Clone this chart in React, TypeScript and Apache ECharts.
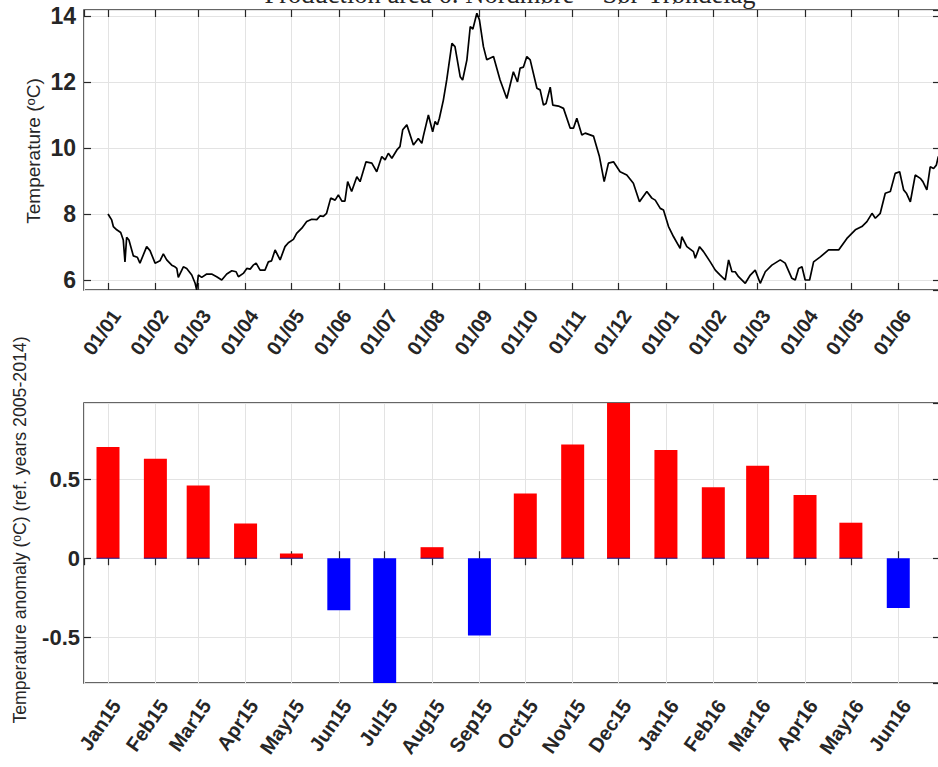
import React, { useEffect, useRef } from 'react';
import * as echarts from 'echarts';

const titleText = 'Production area 6: Nordmøre + Sør-Trøndelag';

// daily temperature trace, sampled: day offset from 2015-01-01 and value (°C)
const tempDays = [
  0, 2.4, 3.5, 5.7, 8.3, 10, 11.1, 12.2, 13.7, 16.6, 19.2, 20.9, 25.3, 27.5, 30.8, 34, 36.2, 38.4, 41.7, 43.8,
  45, 46, 49.3, 51.5, 54.8, 57, 58, 59.1, 61.3, 64.6, 67.8, 71.1, 74.4, 77.7, 81, 83.8, 85.3, 88.5, 90.8, 93,
  95, 96.9, 99.5, 102.7, 104.9, 107, 109.3, 112.6, 115.8, 118, 121.3, 123.4, 126.8, 130, 133.3, 136.6, 138.7, 140.9, 143, 145.7,
  148.6, 150.7, 153, 155, 156.8, 159.4, 162.8, 164.9, 168.8, 172.6, 175.8, 179.1, 181.3, 183.4, 185.7, 189, 191, 192.8, 195.5, 199.8,
  203, 205.3, 206.3, 209.6, 212.4, 214, 215.5, 216.8, 219.4, 221.6, 225, 227, 230.4, 232, 234.8, 237, 238.7, 241.3, 243, 245.6,
  247.8, 252.2, 256.5, 260.9, 265.2, 267.9, 269.6, 271.8, 274, 276.2, 280.6, 282.7, 284.9, 286.6, 289.3, 291, 294.7, 298, 302.4, 304.5,
  306.7, 310, 312.2, 317.6, 321.5, 324.6, 327.4, 330.7, 335, 339.4, 343.7, 347.7, 352.5, 355.8, 358, 361.3, 363.4, 366.7, 370, 374.3,
  375.4, 378.7, 383, 384.2, 387, 389.6, 394, 397.3, 400.5, 403.8, 406, 408.2, 410.3, 412.5, 416.9, 420.2, 423.4, 426.7, 430, 434.3,
  439.8, 443, 447.4, 449.6, 451.8, 454, 456.1, 459, 461.6, 466, 471.4, 478, 483.4, 488.9, 493.2, 496.5, 499.8, 502, 505.2, 508.5,
  511.8, 515, 517.9, 520.5, 522.3, 524.9, 528.1, 531.4, 533.1, 535.7, 537.9, 540.1, 541.9, 543.2, 546,
];
const tempValues = [
  8.0, 7.82, 7.62, 7.52, 7.44, 7.21, 6.55, 7.29, 7.21, 6.73, 6.69, 6.51, 7.01, 6.89, 6.51, 6.58, 6.79, 6.61, 6.45, 6.4,
  6.35, 6.08, 6.4, 6.35, 6.15, 5.9, 5.7, 6.15, 6.08, 6.18, 6.18, 6.1, 6.0, 6.18, 6.28, 6.25, 6.1, 6.2, 6.35, 6.33,
  6.45, 6.51, 6.3, 6.3, 6.55, 6.58, 6.91, 6.61, 7.01, 7.13, 7.23, 7.41, 7.57, 7.77, 7.84, 7.83, 7.94, 7.93, 8.02, 8.48,
  8.42, 8.58, 8.39, 8.39, 8.98, 8.68, 9.13, 8.98, 9.58, 9.54, 9.28, 9.74, 9.64, 9.84, 9.69, 9.94, 10.04, 10.55, 10.7, 10.09,
  10.29, 10.14, 10.36, 11.0, 10.49, 10.8, 10.7, 10.9, 11.45, 12.06, 13.17, 13.07, 12.16, 12.06, 12.67, 13.68, 13.6, 14.08, 13.88, 13.07,
  12.67, 12.77, 12.06, 11.5, 12.31, 12.0, 12.42, 12.45, 12.77, 12.67, 11.81, 11.76, 11.3, 11.35, 11.84, 11.3, 11.27, 11.2, 10.6, 10.6,
  10.9, 10.39, 10.45, 10.36, 9.74, 8.98, 9.54, 9.58, 9.28, 9.18, 8.93, 8.37, 8.68, 8.48, 8.42, 8.17, 8.12, 7.62, 7.31, 6.96,
  7.31, 7.01, 6.86, 6.66, 7.01, 6.86, 6.55, 6.3, 6.15, 6.0, 6.61, 6.25, 6.25, 6.1, 5.9, 6.15, 6.3, 5.9, 6.25, 6.45,
  6.61, 6.51, 6.05, 6.0, 6.35, 6.4, 6.0, 6.0, 6.55, 6.7, 6.91, 6.91, 7.26, 7.52, 7.62, 7.77, 8.02, 7.87, 8.02, 8.63,
  8.68, 9.23, 9.28, 8.73, 8.63, 8.37, 9.18, 9.08, 8.98, 8.73, 9.43, 9.38, 9.48, 9.74, 9.6,
];

const anomalyMonths = [
  '2015-01', '2015-02', '2015-03', '2015-04', '2015-05', '2015-06', '2015-07', '2015-08', '2015-09',
  '2015-10', '2015-11', '2015-12', '2016-01', '2016-02', '2016-03', '2016-04', '2016-05', '2016-06',
];
const anomalyValues = [
  0.705, 0.63, 0.46, 0.22, 0.03, -0.33, -0.85, 0.07, -0.49,
  0.41, 0.72, 1.02, 0.685, 0.45, 0.585, 0.4, 0.225, -0.315,
];
const monthNames = ['Jan', 'Feb', 'Mar', 'Apr', 'May', 'Jun', 'Jul', 'Aug', 'Sep', 'Oct', 'Nov', 'Dec'];

const DAY = 86400000;
const BASE = new Date(2015, 0, 1).getTime();
const X_MIN = BASE - 15.7 * DAY;
const X_MAX = BASE + 544.3 * DAY;

const FONT = '"Liberation Sans", Arial, Helvetica, sans-serif';
const AX = '#262626';
const GRIDC = '#e3e3e3';

const pad = (n: number) => (n < 10 ? '0' + n : '' + n);
const toTime = (m: string) => {
  const [y, mo] = m.split('-').map(Number);
  return new Date(y, mo - 1, 1).getTime();
};

function xAxisDef(gridIndex: number, formatter: ((v: number) => string) | null, top: boolean, margin: number) {
  return {
    type: 'time',
    gridIndex,
    position: top ? 'top' : 'bottom',
    min: X_MIN,
    max: X_MAX,
    minInterval: 28 * DAY,
    maxInterval: 31 * DAY,
    axisLine: { show: false },
    axisTick: { show: true, inside: true, length: 7, lineStyle: { color: AX, width: 1.2 } },
    axisLabel: formatter
      ? {
          show: true,
          rotate: 55,
          fontSize: 20,
          fontWeight: 'bold',
          fontFamily: FONT,
          color: AX,
          margin,
          verticalAlign: 'top',
          hideOverlap: false,
          formatter,
        }
      : { show: false },
    splitLine: { show: !top, lineStyle: { color: GRIDC, width: 1 } },
  };
}

function yAxisDef(gridIndex: number, min: number, max: number, splitNumber: number, margin: number, fontSize: number, right: boolean) {
  return {
    type: 'value',
    gridIndex,
    position: right ? 'right' : 'left',
    min,
    max,
    splitNumber,
    axisLine: { show: false },
    axisTick: { show: true, inside: true, length: 7, lineStyle: { color: AX, width: 1.2 } },
    axisLabel: right
      ? { show: false }
      : {
          show: true,
          fontSize,
          fontWeight: 'bold',
          fontFamily: FONT,
          color: AX,
          margin,
          showMinLabel: false,
          showMaxLabel: false,
        },
    splitLine: { show: !right, lineStyle: { color: GRIDC, width: 1 } },
  };
}

export default function App() {
  const ref = useRef<HTMLDivElement>(null);

  useEffect(() => {
    document.body.style.margin = '0';
    if (!ref.current) return;
    const chart = echarts.init(ref.current, null, { renderer: 'svg' });

    const lineData = tempDays.map((d, i) => [BASE + d * DAY, tempValues[i]]);
    const barData = anomalyMonths.map((m, i) => [toTime(m), anomalyValues[i]]);

    const topFmt = (v: number) => {
      const d = new Date(v);
      return pad(d.getDate()) + '/' + pad(d.getMonth() + 1);
    };
    const botFmt = (v: number) => {
      const d = new Date(v);
      return monthNames[d.getMonth()] + String(d.getFullYear()).slice(2);
    };

    const BAR_HALF = 11.5;
    const renderBar = (params: any, api: any) => {
      const t = api.value(0);
      const v = api.value(1);
      const cs = params.coordSys;
      const p = api.coord([t, v]);
      const b = api.coord([t, 0]);
      const yTop = Math.max(cs.y, Math.min(p[1], b[1]));
      const yBot = Math.min(cs.y + cs.height, Math.max(p[1], b[1]));
      const children: any[] = [
        {
          type: 'rect',
          shape: { x: p[0] - BAR_HALF, y: yTop, width: BAR_HALF * 2, height: Math.max(0, yBot - yTop) },
          style: { fill: v >= 0 ? '#ff0000' : '#0000ff' },
        },
      ];
      if (v >= 0) {
        children.push({
          type: 'line',
          shape: { x1: b[0] - BAR_HALF, y1: b[1], x2: b[0] + BAR_HALF, y2: b[1] },
          style: { stroke: '#1a1a8c', lineWidth: 1 },
        });
      }
      return { type: 'group', children };
    };

    const option: any = {
      animation: false,
      backgroundColor: '#ffffff',
      grid: [
        { left: 84, top: 10, width: 856, height: 280, show: true, borderColor: '#333333', borderWidth: 1.5, backgroundColor: 'transparent', outerBoundsMode: 'none', containLabel: false },
        { left: 84, top: 403, width: 856, height: 280, show: true, borderColor: '#333333', borderWidth: 1.5, backgroundColor: 'transparent', outerBoundsMode: 'none', containLabel: false },
      ],
      xAxis: [
        xAxisDef(0, topFmt, false, 16),
        xAxisDef(0, null, true, 0),
        xAxisDef(1, botFmt, false, 13),
        xAxisDef(1, null, true, 0),
      ],
      yAxis: [
        yAxisDef(0, 5.697, 14.18, 4, 8, 23, false),
        yAxisDef(0, 5.697, 14.18, 4, 8, 23, true),
        yAxisDef(1, -0.79, 0.983, 3, 4, 22, false),
        yAxisDef(1, -0.79, 0.983, 3, 4, 22, true),
      ],
      graphic: [
        {
          type: 'text',
          x: 510,
          y: 7,
          silent: true,
          style: {
            text: titleText,
            fontSize: 26.5,
            fontFamily: '"Liberation Serif", "Times New Roman", serif',
            fill: '#262626',
            align: 'center',
            verticalAlign: 'bottom',
          },
        },
        {
          type: 'text',
          x: 33,
          y: 151,
          rotation: Math.PI / 2,
          silent: true,
          style: {
            text: 'Temperature ({s|o}C)',
            fontSize: 19,
            fontFamily: FONT,
            fill: AX,
            align: 'center',
            verticalAlign: 'middle',
            rich: { s: { fontSize: 13, fontFamily: FONT, fill: AX, verticalAlign: 'top', padding: [0, 0, 6, 0] } },
          },
        },
        {
          type: 'text',
          x: 20,
          y: 530,
          rotation: Math.PI / 2,
          silent: true,
          style: {
            text: 'Temperature anomaly ({s|o}C) (ref. years 2005-2014)',
            fontSize: 17.7,
            fontFamily: FONT,
            fill: AX,
            align: 'center',
            verticalAlign: 'middle',
            rich: { s: { fontSize: 12, fontFamily: FONT, fill: AX, verticalAlign: 'top', padding: [0, 0, 6, 0] } },
          },
        },
      ],
      series: [
        {
          type: 'line',
          xAxisIndex: 0,
          yAxisIndex: 0,
          data: lineData,
          showSymbol: false,
          symbol: 'none',
          clip: true,
          lineStyle: { color: '#000000', width: 1.7 },
          z: 3,
        },
        {
          type: 'custom',
          xAxisIndex: 2,
          yAxisIndex: 2,
          data: barData,
          encode: { x: 0, y: 1 },
          clip: true,
          renderItem: renderBar,
          z: 3,
        },
      ],
    };

    chart.setOption(option);
    return () => {
      chart.dispose();
    };
  }, []);

  return <div ref={ref} style={{ width: 938, height: 767 }} />;
}
